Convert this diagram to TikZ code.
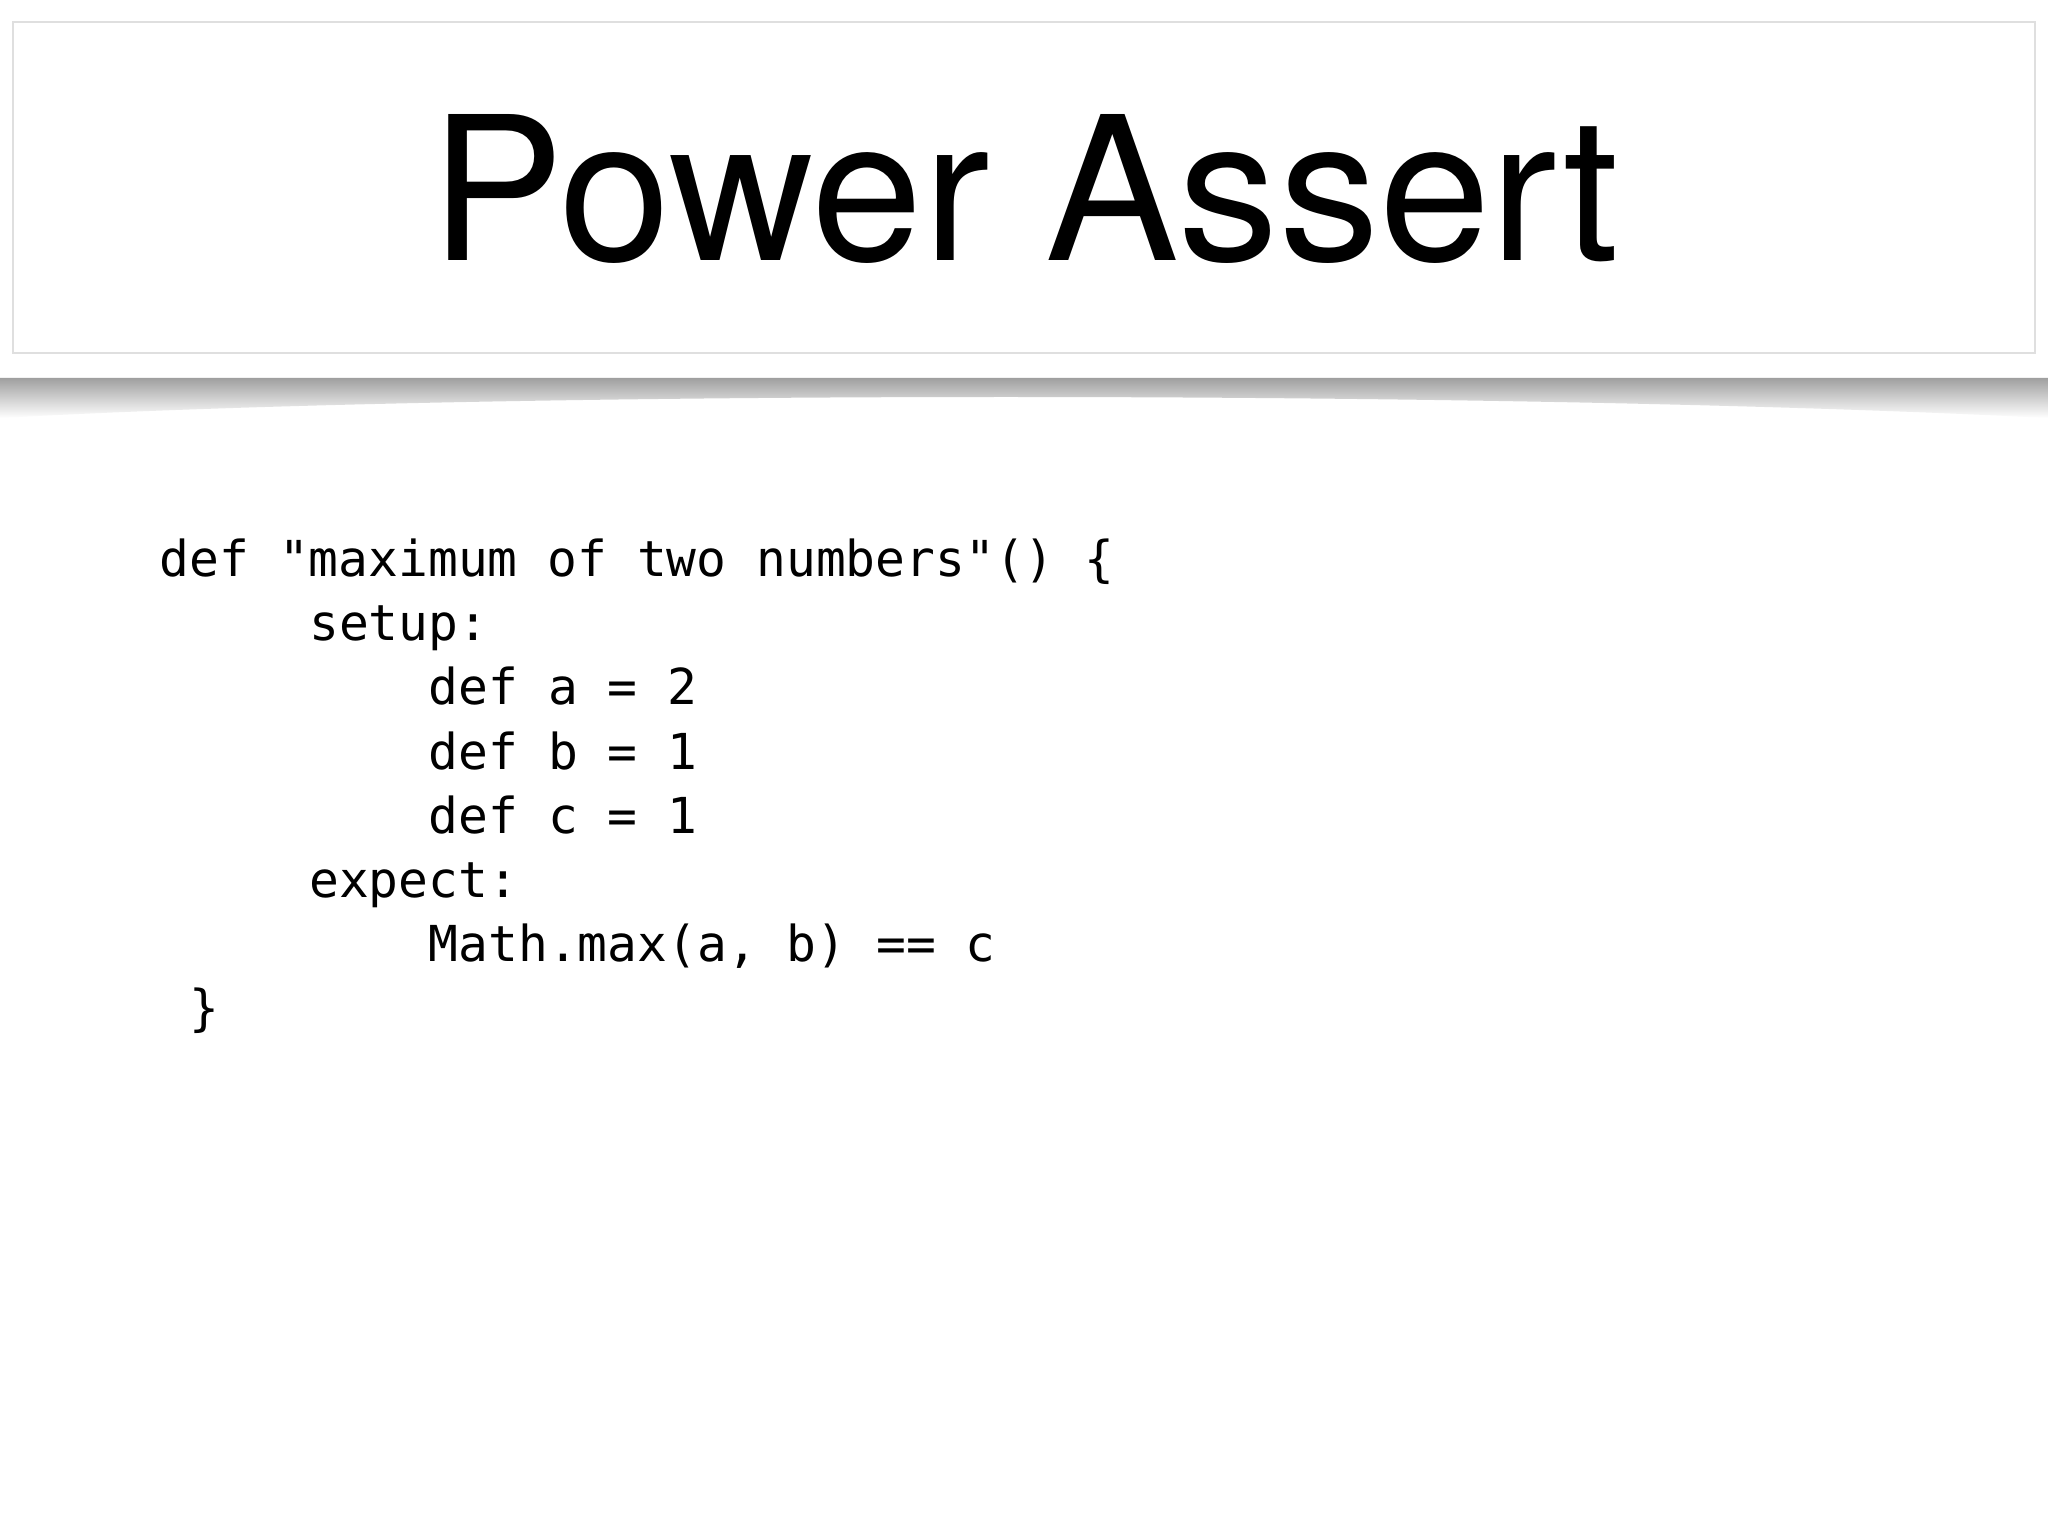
\documentclass[tikz,border=0pt]{standalone}
\usepackage{fontspec}
\setmainfont{TeX Gyre Heros}
\setmonofont{DejaVu Sans Mono}
\begin{document}
\begin{tikzpicture}[x=1cm,y=1cm,
  code/.style={anchor=base west,inner sep=0pt,font=\fontsize{14.1pt}{16pt}\ttfamily}]
\useasboundingbox (0,0) rectangle (20.48,-15.36);
\fill[white] (0,0) rectangle (20.48,-15.36);
% shadow
\shade[top color=gray!75,bottom color=white] (0,-3.78) -- (20.48,-3.78) -- (20.48,-4.18) .. controls (15,-3.9) and (5,-3.9) .. (0,-4.18) -- cycle;
\node[draw=gray!25,line width=0.6pt,fill=white,minimum width=20.22cm,minimum height=3.31cm,inner sep=0pt] (box) at (10.24,-1.875) {};
\node[anchor=base,inner sep=0pt,font=\fontsize{57pt}{60pt}\selectfont] (title) at (10.25,-2.61) {Power Assert};
\def\cw{0.299}
\node[code] (l1) at (1.59,-5.77) {def "maximum of two numbers"() \{};
\node[code] (l2) at (1.59+5*\cw,-6.41) {setup:};
\node[code] (l3) at (1.59+9*\cw,-7.05) {def a = 2};
\node[code] (l4) at (1.59+9*\cw,-7.69) {def b = 1};
\node[code] (l5) at (1.59+9*\cw,-8.33) {def c = 1};
\node[code] (l6) at (1.59+5*\cw,-8.97) {expect:};
\node[code] (l7) at (1.59+9*\cw,-9.61) {Math.max(a, b) == c};
\node[code] (l8) at (1.59+1*\cw,-10.25) {\}};
\end{tikzpicture}
\end{document}
